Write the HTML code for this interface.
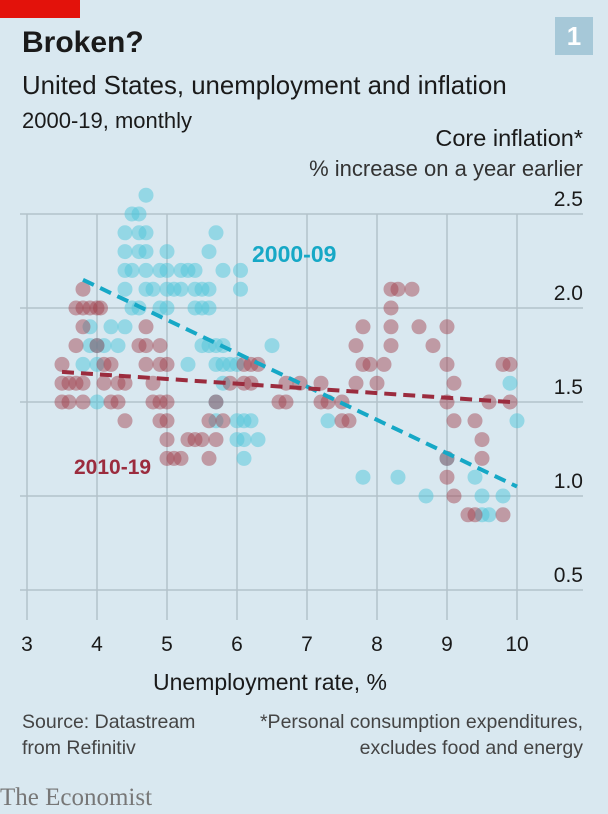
<!DOCTYPE html>
<html><head><meta charset="utf-8"><style>
body{margin:0;width:608px;height:814px;overflow:hidden;font-family:"Liberation Sans",sans-serif}
#wrap{position:relative;width:608px;height:814px;background:#d9e8f0}
.t{position:absolute;white-space:nowrap;color:#1a1a1a}
</style></head><body>
<div id="wrap">
<div style="position:absolute;left:0;top:0;width:80px;height:18px;background:#e3120b"></div>
<div class="t" style="left:22px;top:26px;font-size:30px;font-weight:bold">Broken?</div>
<div style="position:absolute;left:555px;top:17px;width:38px;height:38px;background:#a6c8d8;color:#fff;font-weight:bold;font-size:26px;text-align:center;line-height:38px">1</div>
<div class="t" style="left:22px;top:72px;font-size:25.8px">United States, unemployment and inflation</div>
<div class="t" style="left:22px;top:108px;font-size:22px">2000-19, monthly</div>
<div class="t" style="right:25px;top:125px;font-size:23.5px">Core inflation*</div>
<div class="t" style="right:25px;top:156px;font-size:22px;color:#333">% increase on a year earlier</div>
<svg id="chart" width="608" height="814" style="position:absolute;left:0;top:0"></svg>
<div class="t" style="left:0;width:540px;text-align:center;top:669px;font-size:23px">Unemployment rate, %</div>
<div class="t" style="left:22px;top:709px;font-size:19.5px;color:#444;line-height:26px">Source: Datastream<br>from Refinitiv</div>
<div class="t" style="right:25px;top:709px;font-size:19.5px;color:#444;line-height:26px;text-align:right">*Personal consumption expenditures,<br>excludes food and energy</div>
<div class="t" style="left:0;top:784px;font-family:'Liberation Serif',serif;font-size:25px;color:#777">The Economist</div>
</div>
<script>
const xTicks=[3,4,5,6,7,8,9,10];
const yTicks=[0.5,1.0,1.5,2.0,2.5];
const yTickLabels=["0.5","1.0","1.5","2.0","2.5"];
const cyanU=[4.7,4.5,4.6,4.4,4.6,4.7,5.7,4.4,4.6,4.7,5.0,5.6,4.4,4.5,4.7,4.9,5.0,5.2,5.3,5.4,5.8,6.05,4.4,4.7,4.8,5.0,5.1,5.2,5.4,5.5,5.6,6.05,4.5,4.6,4.9,5.0,5.4,5.5,5.6,3.9,4.2,4.4,3.9,4.0,4.1,4.3,5.5,5.6,5.7,5.8,6.5,3.8,4.0,5.3,5.7,5.8,5.9,6.0,5.8,4.0,5.7,6.0,6.1,6.2,6.0,6.1,6.3,6.1,7.3,9.9,10.0,7.8,8.3,8.7,9.4,9.5,9.8,9.5,9.6,9.0,5.7];
const cyanI=[2.6,2.5,2.5,2.4,2.4,2.4,2.4,2.3,2.3,2.3,2.3,2.3,2.2,2.2,2.2,2.2,2.2,2.2,2.2,2.2,2.2,2.2,2.1,2.1,2.1,2.1,2.1,2.1,2.1,2.1,2.1,2.1,2.0,2.0,2.0,2.0,2.0,2.0,2.0,1.9,1.9,1.9,1.8,1.8,1.8,1.8,1.8,1.8,1.8,1.8,1.8,1.7,1.7,1.7,1.7,1.7,1.7,1.7,1.6,1.5,1.4,1.4,1.4,1.4,1.3,1.3,1.3,1.2,1.4,1.6,1.4,1.1,1.1,1.0,1.1,1.0,1.0,0.9,0.9,1.2,1.5];
const redU=[3.8,3.7,3.8,3.9,4.0,4.05,3.8,4.7,3.7,4.0,4.6,4.7,4.9,3.5,4.1,4.2,4.7,4.9,5.0,6.1,6.2,6.3,3.5,3.6,3.7,3.8,4.1,4.3,4.4,4.8,5.9,6.1,6.2,6.7,3.5,3.6,3.8,4.2,4.3,4.8,4.9,5.0,5.7,6.6,6.7,4.4,4.9,5.0,5.6,5.8,5.0,5.3,5.4,5.5,5.7,5.0,5.1,5.2,5.6,8.2,8.3,8.5,8.2,7.8,8.2,8.6,9.0,7.7,8.2,8.8,7.8,7.9,8.1,9.0,9.8,9.9,6.9,7.2,7.7,8.0,9.1,7.2,7.3,7.5,9.0,9.6,9.9,7.5,7.6,9.1,9.4,9.5,9.5,9.0,9.1,9.3,9.4,9.8,9.0];
const redI=[2.1,2.0,2.0,2.0,2.0,2.0,1.9,1.9,1.8,1.8,1.8,1.8,1.8,1.7,1.7,1.7,1.7,1.7,1.7,1.7,1.7,1.7,1.6,1.6,1.6,1.6,1.6,1.6,1.6,1.6,1.6,1.6,1.6,1.6,1.5,1.5,1.5,1.5,1.5,1.5,1.5,1.5,1.5,1.5,1.5,1.4,1.4,1.4,1.4,1.4,1.3,1.3,1.3,1.3,1.3,1.2,1.2,1.2,1.2,2.1,2.1,2.1,2.0,1.9,1.9,1.9,1.9,1.8,1.8,1.8,1.7,1.7,1.7,1.7,1.7,1.7,1.6,1.6,1.6,1.6,1.6,1.5,1.5,1.5,1.5,1.5,1.5,1.4,1.4,1.4,1.4,1.3,1.2,1.1,1.0,0.9,0.9,0.9,1.2];
const cyanTrend=[[3.8,2.15],[10.0,1.05]];
const redTrend=[[3.5,1.66],[9.9,1.5]];
const NS="http://www.w3.org/2000/svg";
const svg=document.getElementById('chart');
const X=u=>27+(u-3)*70;
const Y=v=>214+(2.5-v)*188;
function mk(tag,attrs){const e=document.createElementNS(NS,tag);for(const k in attrs)e.setAttribute(k,attrs[k]);svg.appendChild(e);return e;}
yTicks.forEach((v,i)=>{
 const l=mk('line',{x1:20,x2:583,y1:Y(v),y2:Y(v),stroke:'#b3c2ca','stroke-width':1.5});
 
 
 const t=mk('text',{x:583,y:Y(v)-8,'text-anchor':'end','font-size':21,fill:'#1a1a1a','font-family':'Liberation Sans, sans-serif'});
 t.textContent=yTickLabels[i];
 
 
});
xTicks.forEach(u=>{
 const l=mk('line',{x1:X(u),x2:X(u),y1:Y(2.5),y2:620,stroke:'#b3c2ca','stroke-width':1.5});
 
 
 const t=mk('text',{x:X(u),y:651,'text-anchor':'middle','font-size':21,fill:'#1a1a1a','font-family':'Liberation Sans, sans-serif'});
 t.textContent=String(u);
 
 
});
cyanU.forEach((u,i)=>{
 const c=mk('circle',{cx:X(u),cy:Y(cyanI[i]),r:7.5,fill:'rgba(80,198,218,0.5)'});
 
 
});
redU.forEach((u,i)=>{
 const c=mk('circle',{cx:X(u),cy:Y(redI[i]),r:7.5,fill:'rgba(160,60,72,0.45)'});
 
 
});
const lc=mk('line',{x1:X(cyanTrend[0][0]),y1:Y(cyanTrend[0][1]),x2:X(cyanTrend[1][0]),y2:Y(cyanTrend[1][1]),stroke:'#16a8c6','stroke-width':4,'stroke-dasharray':'12 7'});


const lr=mk('line',{x1:X(redTrend[0][0]),y1:Y(redTrend[0][1]),x2:X(redTrend[1][0]),y2:Y(redTrend[1][1]),stroke:'#9b2c3e','stroke-width':4,'stroke-dasharray':'12 7'});


const a=mk('text',{x:252,y:262,'font-size':23,'font-weight':'bold',fill:'#16a8c6','font-family':'Liberation Sans, sans-serif'});
a.textContent='2000-09';


const b=mk('text',{x:74,y:474,'font-size':21,'font-weight':'bold',fill:'#9b2c3e','font-family':'Liberation Sans, sans-serif'});
b.textContent='2010-19';


</script>
</body></html>
